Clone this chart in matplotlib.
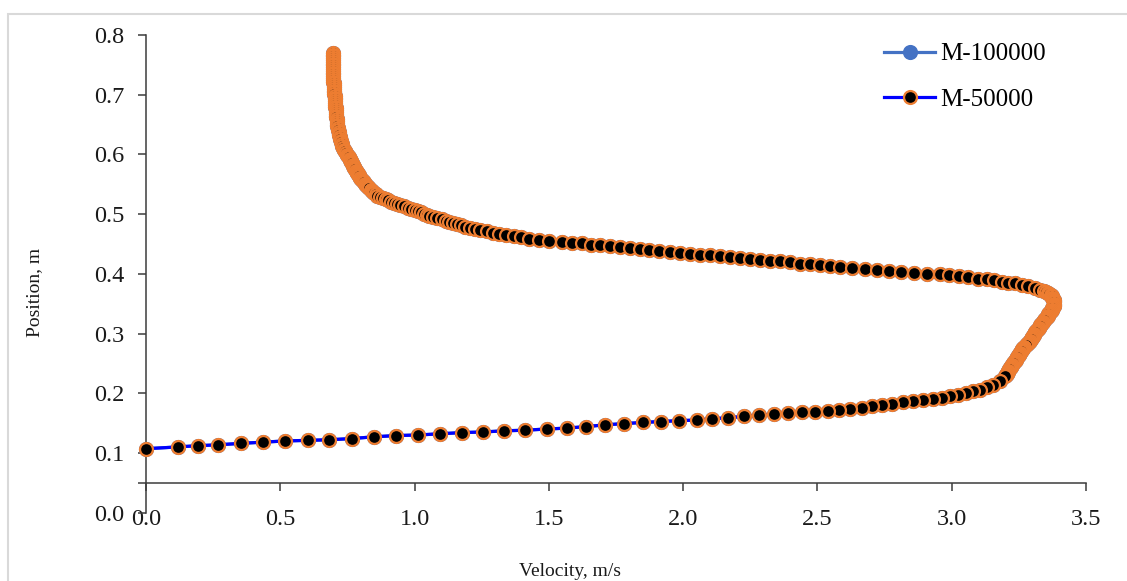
import numpy as np
import matplotlib
matplotlib.use("Agg")
import matplotlib.pyplot as plt
from matplotlib.patches import Rectangle
from matplotlib.ticker import FixedLocator

# ── Colours (Excel defaults) ──────────────────────────────────
C_M100K = "#4472C4"   # blue  — M-100000
C_LINE  = "#0000FF"   # pure blue line — M-50000
C_EDGE  = "#ED7D31"   # orange marker edge — M-50000
C_AXIS  = "#3c3c3c"
C_TEXT  = "#1a1a1a"

plt.rcParams["font.family"] = ["Liberation Serif", "DejaVu Serif"]

# ── Velocity profile ──────────────────────────────────────────
# listed from the inlet (bottom left) up to the top of the column
lower_vel = [0.000, 0.118, 0.192, 0.267, 0.354, 0.434, 0.518, 0.602, 0.682, 0.766,
             0.850, 0.931, 1.014, 1.095, 1.175, 1.254, 1.334, 1.411, 1.492, 1.566,
             1.638, 1.709, 1.780, 1.849, 1.917, 1.984, 2.050, 2.106, 2.168, 2.227,
             2.283, 2.338, 2.391, 2.441, 2.491, 2.540, 2.581, 2.621, 2.665, 2.702,
             2.739, 2.776, 2.819, 2.857, 2.894, 2.931, 2.962, 2.993, 3.024, 3.055,
             3.080, 3.105, 3.130, 3.155, 3.179, 3.198]
lower_pos = [0.107, 0.110, 0.112, 0.1135, 0.116, 0.118, 0.120, 0.121, 0.122, 0.124,
             0.127, 0.129, 0.130, 0.132, 0.134, 0.135, 0.137, 0.138, 0.140, 0.1415,
             0.144, 0.147, 0.149, 0.151, 0.1525, 0.154, 0.155, 0.157, 0.159, 0.161,
             0.163, 0.165, 0.167, 0.168, 0.169, 0.171, 0.172, 0.174, 0.176, 0.178,
             0.181, 0.182, 0.1845, 0.187, 0.189, 0.191, 0.192, 0.195, 0.197, 0.200,
             0.203, 0.206, 0.210, 0.214, 0.220, 0.228]

nose_vel = [3.201, 3.204, 3.206, 3.209, 3.211, 3.214, 3.216, 3.219, 3.222, 3.225,
            3.228, 3.231, 3.235, 3.239, 3.241, 3.244, 3.247, 3.250, 3.252, 3.255,
            3.257, 3.260, 3.263, 3.267, 3.271, 3.275, 3.279, 3.283, 3.288, 3.292,
            3.295, 3.298, 3.300, 3.303, 3.305, 3.308, 3.311, 3.314, 3.317, 3.321,
            3.324, 3.327, 3.330, 3.334, 3.337, 3.340, 3.343, 3.347, 3.350, 3.354,
            3.357, 3.360, 3.363, 3.367, 3.370, 3.373, 3.375, 3.377, 3.379, 3.380,
            3.381, 3.381, 3.381, 3.380, 3.378, 3.375, 3.372, 3.368, 3.363, 3.357,
            3.350, 3.343]
nose_pos = [0.230, 0.232, 0.234, 0.236, 0.238, 0.240, 0.242, 0.244, 0.246, 0.248,
            0.250, 0.252, 0.254, 0.256, 0.258, 0.260, 0.262, 0.264, 0.266, 0.268,
            0.270, 0.272, 0.274, 0.276, 0.278, 0.280, 0.282, 0.284, 0.286, 0.288,
            0.290, 0.292, 0.294, 0.296, 0.298, 0.300, 0.302, 0.304, 0.306, 0.308,
            0.310, 0.312, 0.314, 0.316, 0.318, 0.320, 0.322, 0.324, 0.326, 0.328,
            0.330, 0.332, 0.334, 0.336, 0.338, 0.340, 0.342, 0.344, 0.346, 0.348,
            0.350, 0.352, 0.354, 0.356, 0.358, 0.360, 0.362, 0.364, 0.366, 0.368,
            0.370, 0.372]

upper_vel = [3.328, 3.310, 3.285, 3.260, 3.235, 3.210, 3.186, 3.157, 3.130, 3.099,
             3.061, 3.028, 2.991, 2.956, 2.907, 2.859, 2.813, 2.767, 2.720, 2.677,
             2.627, 2.584, 2.547, 2.509, 2.472, 2.435, 2.398, 2.360, 2.323, 2.286,
             2.249, 2.211, 2.174, 2.137, 2.100, 2.063, 2.025, 1.988, 1.951, 1.911,
             1.874, 1.839, 1.802, 1.765, 1.727, 1.690, 1.656, 1.622, 1.585, 1.548]
upper_pos = [0.3737, 0.3765, 0.379, 0.3815, 0.384, 0.385, 0.387, 0.389, 0.3905, 0.392,
             0.394, 0.396, 0.398, 0.399, 0.4005, 0.402, 0.403, 0.404, 0.406, 0.408,
             0.410, 0.412, 0.413, 0.4145, 0.416, 0.417, 0.419, 0.421, 0.422, 0.4235,
             0.425, 0.426, 0.428, 0.4295, 0.431, 0.432, 0.4335, 0.435, 0.436, 0.438,
             0.4395, 0.441, 0.443, 0.4445, 0.446, 0.448, 0.449, 0.451, 0.452, 0.453]

top_vel = [1.502, 1.465, 1.427, 1.397, 1.369, 1.342, 1.315, 1.291, 1.268, 1.245,
           1.226, 1.207, 1.189, 1.173, 1.159, 1.144, 1.130, 1.116, 1.101, 1.085,
           1.070, 1.055, 1.045, 1.035, 1.025, 1.013, 1.000, 0.987, 0.974, 0.961,
           0.947, 0.934, 0.923, 0.912, 0.902, 0.892, 0.881, 0.870, 0.861, 0.856,
           0.850, 0.845, 0.840, 0.836, 0.831, 0.827, 0.823, 0.819, 0.815, 0.811,
           0.807, 0.803, 0.800, 0.797, 0.794, 0.792, 0.789, 0.786, 0.784, 0.781,
           0.778, 0.776, 0.774, 0.771, 0.769, 0.767, 0.765, 0.763, 0.760, 0.758,
           0.755, 0.753, 0.750,
           0.746, 0.742, 0.738, 0.734, 0.731, 0.729, 0.727, 0.725, 0.723, 0.722,
           0.720, 0.719, 0.717, 0.716, 0.714, 0.713, 0.712, 0.711, 0.710, 0.710,
           0.709, 0.708, 0.708, 0.707, 0.706, 0.706, 0.705, 0.705, 0.704, 0.704,
           0.703, 0.702, 0.702, 0.701, 0.701, 0.700, 0.700, 0.699, 0.699, 0.699,
           0.698, 0.698, 0.698, 0.697, 0.697, 0.697, 0.697, 0.697, 0.697, 0.697,
           0.697, 0.697, 0.697, 0.697, 0.697, 0.697, 0.697]
top_pos = [0.455, 0.457, 0.459, 0.461, 0.463, 0.465, 0.467, 0.469, 0.471, 0.473,
           0.475, 0.477, 0.479, 0.481, 0.483, 0.485, 0.487, 0.489, 0.491, 0.493,
           0.495, 0.497, 0.499, 0.501, 0.503, 0.505, 0.507, 0.509, 0.511, 0.513,
           0.515, 0.517, 0.519, 0.521, 0.523, 0.525, 0.527, 0.529, 0.531, 0.533,
           0.535, 0.537, 0.539, 0.541, 0.543, 0.545, 0.547, 0.549, 0.551, 0.553,
           0.555, 0.557, 0.559, 0.561, 0.563, 0.565, 0.567, 0.569, 0.571, 0.573,
           0.575, 0.577, 0.579, 0.581, 0.583, 0.585, 0.587, 0.589, 0.591, 0.593,
           0.595, 0.597, 0.599,
           0.602, 0.605, 0.608, 0.611, 0.614, 0.617, 0.620, 0.623, 0.626, 0.629,
           0.632, 0.635, 0.638, 0.641, 0.644, 0.647, 0.650, 0.653, 0.656, 0.659,
           0.662, 0.665, 0.668, 0.671, 0.674, 0.677, 0.680, 0.683, 0.686, 0.689,
           0.692, 0.695, 0.698, 0.701, 0.704, 0.707, 0.710, 0.713, 0.716, 0.719,
           0.722, 0.725, 0.728, 0.731, 0.734, 0.737, 0.740, 0.743, 0.746, 0.749,
           0.752, 0.755, 0.758, 0.761, 0.764, 0.767, 0.770]

series_labels = ["M-100000", "M-50000"]
x_ticks = [0.0, 0.5, 1.0, 1.5, 2.0, 2.5, 3.0, 3.5]
y_ticks = [0.0, 0.1, 0.2, 0.3, 0.4, 0.5, 0.6, 0.7, 0.8]
x_cross = 0.05   # horizontal axis crosses the vertical one here

# the exported series run from the top of the column down to the inlet
velocity = np.array(lower_vel + nose_vel + upper_vel + top_vel)[::-1]
position = np.array(lower_pos + nose_pos + upper_pos + top_pos)[::-1]


def main():
    W, H = 1127, 581
    fig = plt.figure(figsize=(W / 100, H / 100), dpi=100)
    ax = fig.add_axes([146 / W, 1 - 512.6 / H, 940 / W, 477.6 / H])

    ms, mew, lw = 9.3, 1.6, 2.3
    ax.plot(velocity, position, color=C_M100K, lw=lw, marker="o", ms=ms,
            mfc=C_M100K, mec=C_M100K, mew=mew, label=series_labels[0],
            clip_on=False, zorder=3)
    ax.plot(velocity, position, color=C_LINE, lw=lw, marker="o", ms=ms,
            mfc="black", mec=C_EDGE, mew=mew, label=series_labels[1],
            clip_on=False, zorder=4)

    ax.set_xlim(x_ticks[0], x_ticks[-1])
    ax.set_ylim(y_ticks[0], y_ticks[-1])
    ax.set_xticks(x_ticks)
    ax.set_xticklabels([f"{t:.1f}" for t in x_ticks])
    ax.set_yticks(y_ticks)
    ax.set_yticklabels([f"{t:.1f}" for t in y_ticks])
    ax.yaxis.set_minor_locator(FixedLocator([x_cross]))

    for s in ("top", "right"):
        ax.spines[s].set_visible(False)
    ax.spines["bottom"].set_position(("data", x_cross))
    for s in ("left", "bottom"):
        ax.spines[s].set_color(C_AXIS)
        ax.spines[s].set_linewidth(1.1)

    ax.tick_params(which="both", direction="out", length=5.8, width=1.1,
                   color=C_AXIS, labelsize=17.5, labelcolor=C_TEXT)
    ax.tick_params(axis="x", pad=13)
    ax.tick_params(axis="y", pad=10)

    ax.legend(loc="upper left", bbox_to_anchor=(884 / W, 1 - 43 / H),
              bbox_transform=fig.transFigure, frameon=False, fontsize=18,
              handlelength=2.05, handletextpad=0.2, labelspacing=0.92,
              borderpad=0, borderaxespad=0)

    fig.text(570 / W, 1 - 571 / H, "Velocity, m/s", ha="center", va="center",
             fontsize=14, color=C_TEXT)
    fig.text(35 / W, 1 - 292 / H, "Position, m", ha="center", va="center",
             rotation=90, fontsize=14, color=C_TEXT)

    # light frame of the chart area
    fig.add_artist(Rectangle((8 / W, -0.1), 1.2, 1.1 - 14 / H,
                             transform=fig.transFigure, fill=False,
                             ec="#d9d9d9", lw=1.5))

    fig.savefig("out.png", dpi=100)
    plt.close(fig)


if __name__ == "__main__":
    main()
